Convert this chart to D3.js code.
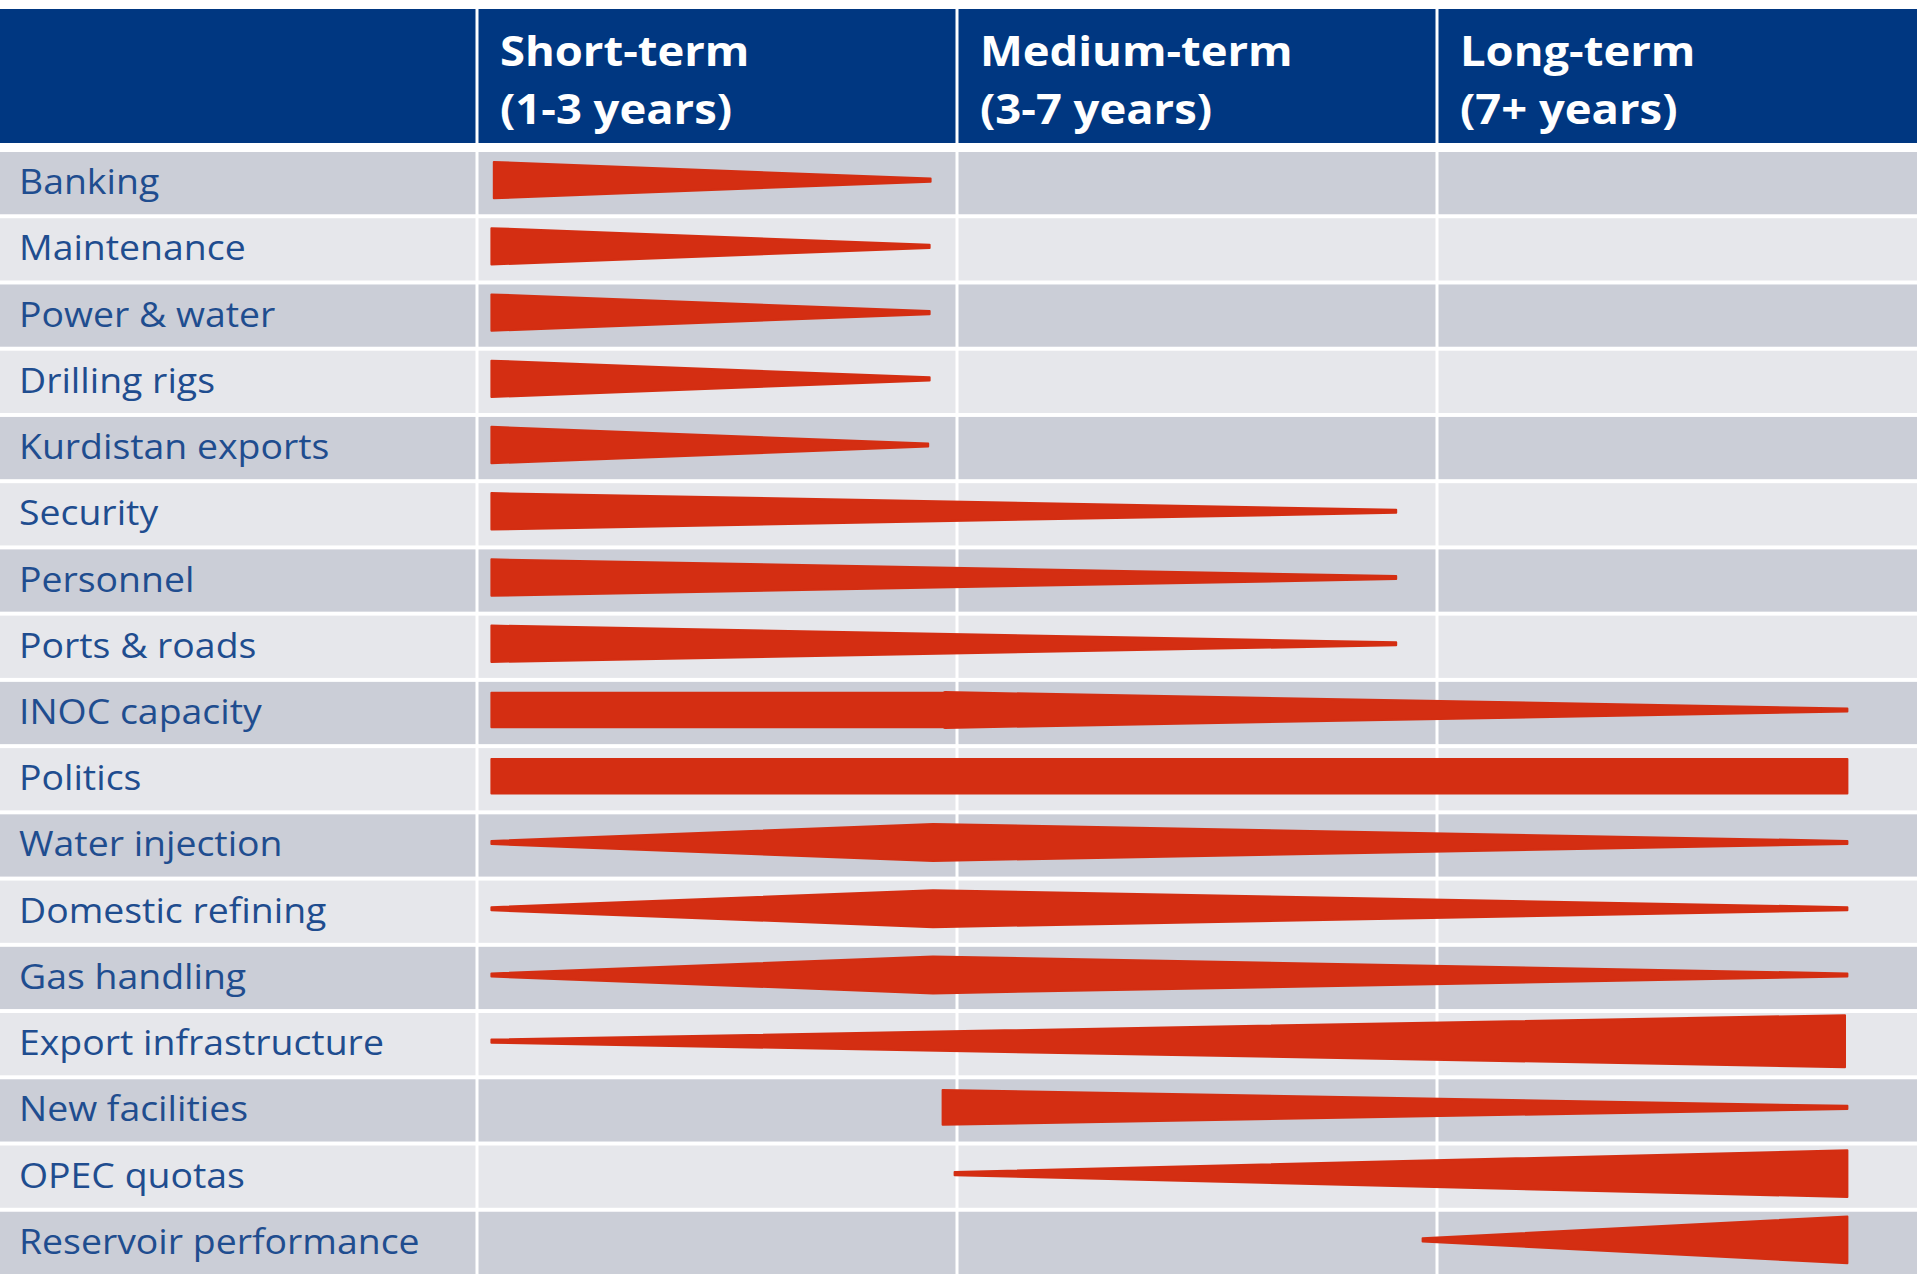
<!DOCTYPE html>
<html>
<head>
<meta charset="utf-8">
<script src="https://cdn.jsdelivr.net/npm/d3@7"></script>
<style>
  body { margin: 0; background: #ffffff; }
  svg { display: block; }
</style>
</head>
<body>
<div id="chart"></div>
<script>
"use strict";

// Column headers (two lines each)
const periods = [
	["Short-term", "(1-3 years)"],
	["Medium-term", "(3-7 years)"],
	["Long-term", "(7+ years)"]
];

// Row labels
const factors = [
	"Banking", "Maintenance", "Power & water", "Drilling rigs", "Kurdistan exports",
	"Security", "Personnel", "Ports & roads", "INOC capacity", "Politics",
	"Water injection", "Domestic refining", "Gas handling", "Export infrastructure",
	"New facilities", "OPEC quotas", "Reservoir performance"
];

// Wedge profiles: [time position in columns (0-3), intensity (0-10)]
const profiles = [
	[[0.035, 7], [0.945, 0.6]],
	[[0.03, 7], [0.943, 0.6]],
	[[0.03, 7], [0.943, 0.6]],
	[[0.03, 7], [0.943, 0.6]],
	[[0.03, 7], [0.94, 0.6]],
	[[0.03, 7], [1.915, 0.6]],
	[[0.03, 7], [1.915, 0.6]],
	[[0.03, 7], [1.915, 0.6]],
	[[0.03, 6.6], [0.97, 6.6], [0.975, 6.9], [2.855, 0.6]],
	[[0.03, 6.6], [2.855, 6.6]],
	[[0.03, 0.6], [0.95, 7.1], [2.855, 0.6]],
	[[0.03, 0.6], [0.95, 7.1], [2.855, 0.6]],
	[[0.03, 0.6], [0.95, 7.1], [2.855, 0.6]],
	[[0.03, 0.6], [2.85, 10]],
	[[0.97, 6.7], [2.855, 0.6]],
	[[0.995, 0.6], [2.855, 9]],
	[[1.97, 0.6], [2.855, 9]]
];

// Size of SVG
const w = 1920;
const h = 1281;

const headerBlue = "#003781";
const labelBlue = "#1f4d8f";
const red = "#d42e12";
const rowDark = "#cbced7";
const rowLight = "#e6e7eb";

const svg = d3.select("#chart")
	.append("svg")
	.attr("width", w)
	.attr("height", h);

// Time scale across the three period columns
const x = d3.scaleLinear()
	.domain([0, 3])
	.range([477, 1917]);

// Rows
const y = d3.scaleBand()
	.domain(factors)
	.range([152, 1274])
	.paddingInner(0.06)
	.paddingOuter(0);

// Intensity to half thickness of a wedge
const thick = d3.scaleLinear()
	.domain([0, 10])
	.range([0, 26]);

// Header band
svg.append("rect")
	.attr("x", 0)
	.attr("y", 9)
	.attr("width", x(3))
	.attr("height", 134)
	.attr("fill", headerBlue);

// Row bands
svg.selectAll(".row")
	.data(factors)
	.enter()
	.append("rect")
	.attr("class", "row")
	.attr("x", 0)
	.attr("y", d => y(d))
	.attr("width", x(3))
	.attr("height", y.bandwidth())
	.attr("fill", (d, i) => i % 2 === 0 ? rowDark : rowLight);

// White column dividers
svg.selectAll(".divider")
	.data([0, 1, 2])
	.enter()
	.append("line")
	.attr("class", "divider")
	.attr("x1", d => x(d))
	.attr("x2", d => x(d))
	.attr("y1", 9)
	.attr("y2", 1274)
	.attr("stroke", "#ffffff")
	.attr("stroke-width", 3);

// Header text
const head = svg.selectAll(".head")
	.data(periods)
	.enter()
	.append("text")
	.attr("class", "head")
	.attr("transform", (d, i) => "translate(" + (x(i) + 23) + ",0) scale(1.08,1)")
	.style("font-family", "'Open Sans', sans-serif")
	.style("font-weight", 700)
	.style("font-size", "42px")
	.attr("fill", "#ffffff");

head.selectAll("tspan")
	.data(d => d)
	.enter()
	.append("tspan")
	.attr("x", 0)
	.attr("y", (d, j) => 66 + j * 58)
	.text(d => d);

// Row labels
svg.selectAll(".label")
	.data(factors)
	.enter()
	.append("text")
	.attr("class", "label")
	.attr("transform", d => "translate(19," + (y(d) + y.bandwidth() / 2 + 11) + ") scale(1.1,1)")
	.style("font-family", "'Open Sans', sans-serif")
	.style("font-size", "34px")
	.attr("fill", labelBlue)
	.text(d => d);

// Wedges: outline along the top, back along the bottom
const area = d3.area()
	.x(d => x(d[0]))
	.y0(d => -thick(d[1]))
	.y1(d => thick(d[1]));

svg.selectAll(".wedge")
	.data(profiles)
	.enter()
	.append("path")
	.attr("class", "wedge")
	.attr("transform", (d, i) => "translate(0," + (y(factors[i]) + y.bandwidth() / 2 - 3) + ")")
	.attr("d", area)
	.attr("fill", red)
	.attr("stroke", red)
	.attr("stroke-width", 2)
	.attr("stroke-linejoin", "round");
</script>
</body>
</html>
